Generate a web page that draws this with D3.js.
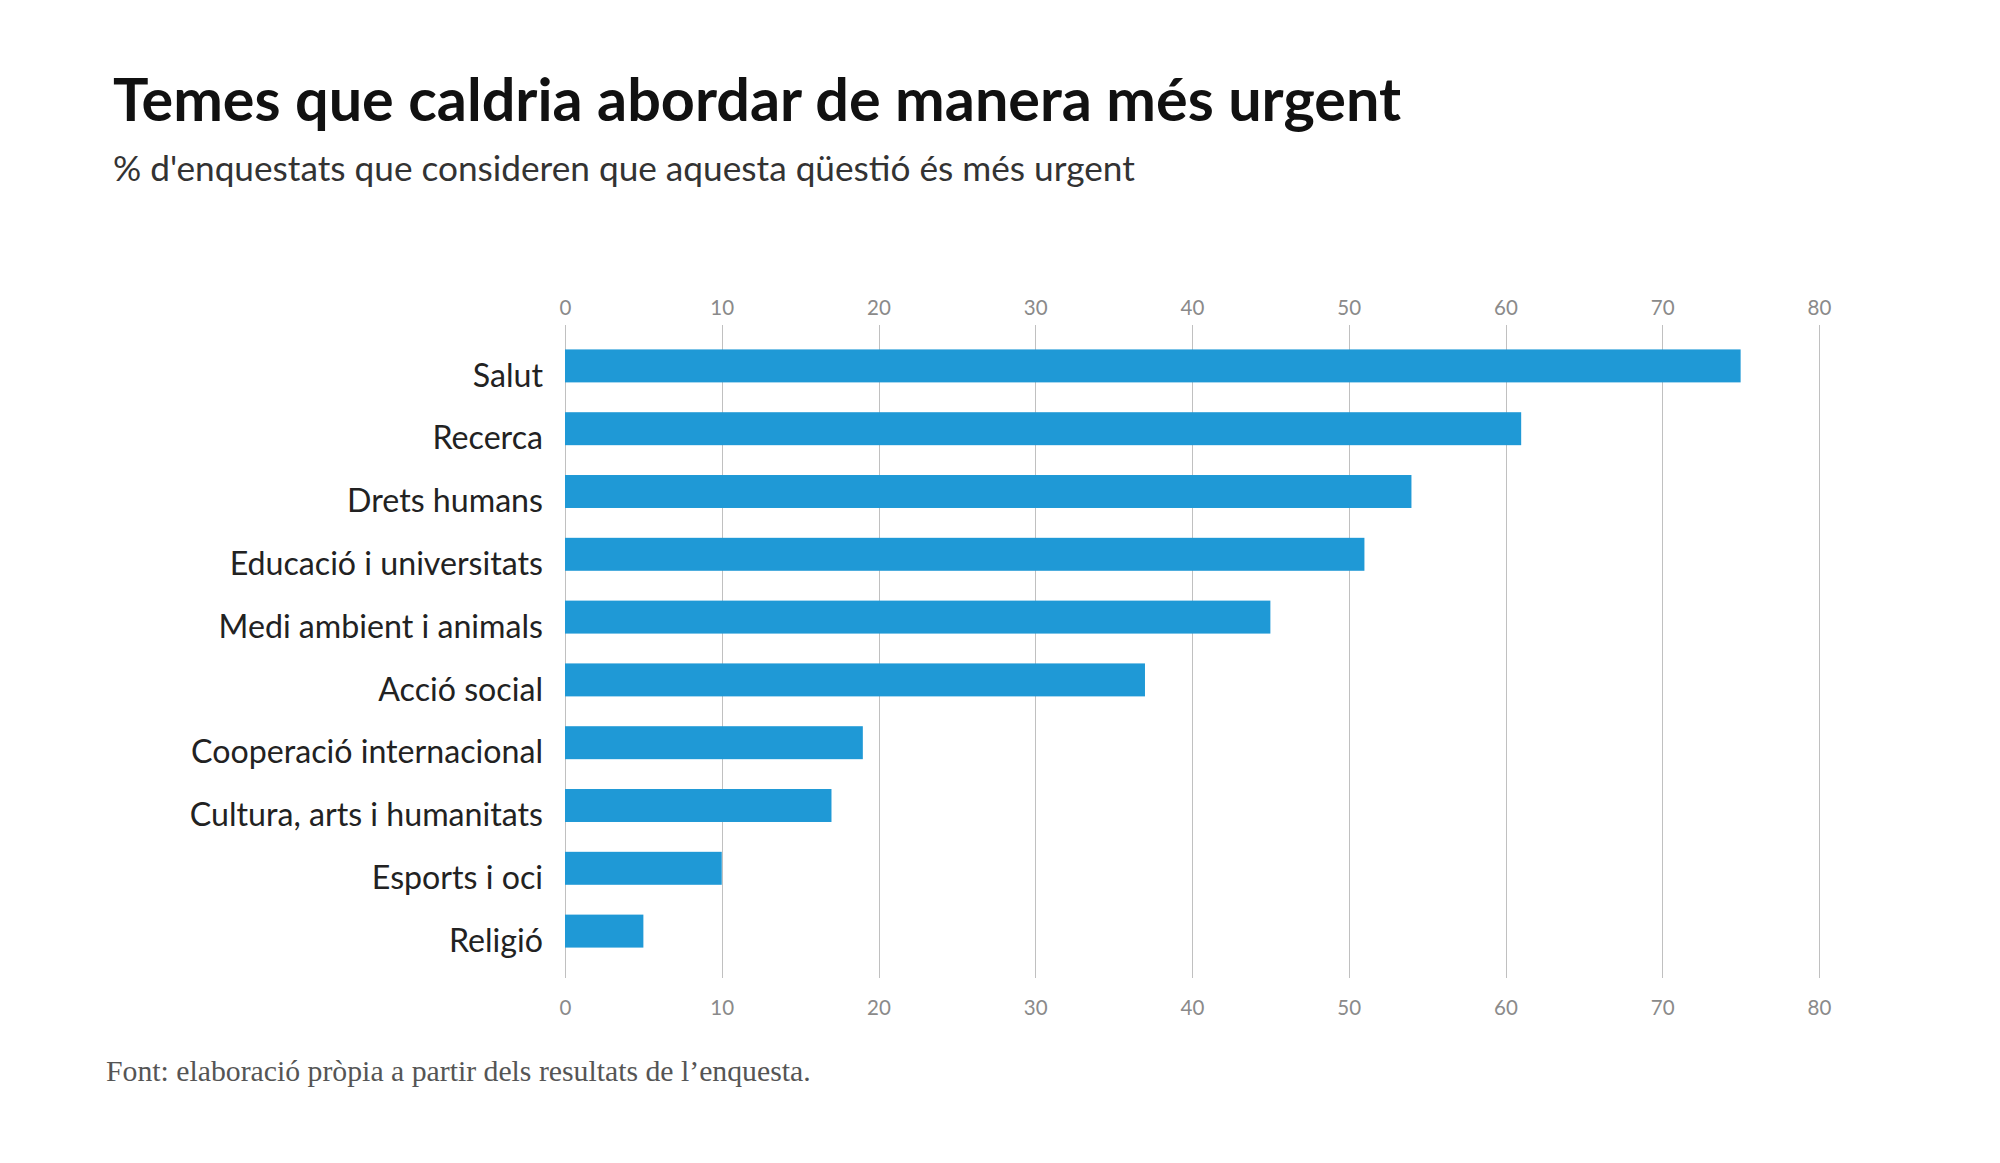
<!DOCTYPE html>
<html>
<head>
<meta charset="utf-8">
<script src="https://cdn.jsdelivr.net/npm/d3@7"></script>
<style>
  html, body { margin: 0; padding: 0; background: #fff; }
  svg { display: block; }
</style>
</head>
<body>
<svg id="chart" width="2000" height="1163"></svg>
<script>
var titleText = "Temes que caldria abordar de manera més urgent";
var subtitleText = "% d'enquestats que consideren que aquesta qüestió és més urgent";
var sourceText = "Font: elaboració pròpia a partir dels resultats de l’enquesta.";

var categories = ["Salut", "Recerca", "Drets humans", "Educació i universitats",
  "Medi ambient i animals", "Acció social", "Cooperació internacional",
  "Cultura, arts i humanitats", "Esports i oci", "Religió"];
var values = [75, 61, 54, 51, 45, 37, 19, 17, 10, 5];
var tickValues = [0, 10, 20, 30, 40, 50, 60, 70, 80];

(function() {
  "use strict";

  var svg = d3.select("#chart"),
    sans = "Lato, 'Noto Sans', sans-serif",
    barColor = "#1f99d6",
    gridColor = "#c0c0c0",
    gridTop = 325,
    gridBottom = 978;

  var x = d3.scaleLinear().domain([0, 80]).range([565, 1819]);
  var y = d3.scaleBand().domain(categories).range([334.5, 962.5])
    .paddingInner(0.475).paddingOuter(0.2375);

  // shrink or grow a text until it has the width we measured on the picture
  function fitWidth(sel, target) {
    var size = parseFloat(sel.attr("font-size"));
    var w = sel.node().getComputedTextLength();
    sel.attr("font-size", (size * target / w).toFixed(2));
    return size * target / w;
  }

  var title = svg.append("text")
    .attr("x", 113).attr("y", 121)
    .attr("font-family", sans).attr("font-weight", 700)
    .attr("font-size", 54).attr("fill", "#111")
    .text(titleText);
  fitWidth(title, 1288);

  var subtitle = svg.append("text")
    .attr("x", 113).attr("y", 181)
    .attr("font-family", sans).attr("font-weight", 400)
    .attr("font-size", 30).attr("fill", "#333")
    .text(subtitleText);
  fitWidth(subtitle, 1022);

  // gridlines
  svg.append("g").selectAll("line")
    .data(tickValues)
    .join("line")
    .attr("x1", function(d) { return Math.round(x(d)) + 0.5; })
    .attr("x2", function(d) { return Math.round(x(d)) + 0.5; })
    .attr("y1", gridTop).attr("y2", gridBottom)
    .attr("stroke", gridColor).attr("stroke-width", 1);

  // top and bottom axes, labels only
  var axisTop = d3.axisTop(x).tickValues(tickValues).tickSize(0).tickPadding(0);
  var axisBottom = d3.axisBottom(x).tickValues(tickValues).tickSize(0).tickPadding(0);

  var gTop = svg.append("g").attr("transform", "translate(0,314.5)").call(axisTop);
  var gBottom = svg.append("g").attr("transform", "translate(0,1000)").call(axisBottom);
  [gTop, gBottom].forEach(function(g) {
    g.select(".domain").remove();
    g.selectAll("text")
      .attr("font-family", sans).attr("font-size", 20.5)
      .attr("fill", "#8a8a8a");
  });
  gBottom.selectAll("text").attr("dy", "0.71em");

  // bars
  svg.append("g").selectAll("rect")
    .data(values)
    .join("rect")
    .attr("x", x(0))
    .attr("y", function(d, i) { return y(categories[i]); })
    .attr("width", function(d) { return x(d) - x(0); })
    .attr("height", y.bandwidth())
    .attr("fill", barColor);

  // category labels
  var labels = svg.append("g").selectAll("text")
    .data(categories)
    .join("text")
    .attr("x", 543)
    .attr("y", function(d) { return y(d) + y.bandwidth() / 2 + 9.5; })
    .attr("dy", "0.35em")
    .attr("text-anchor", "end")
    .attr("font-family", sans).attr("font-size", 30)
    .attr("fill", "#222")
    .text(function(d) { return d; });
  var coop = labels.filter(function(d) { return d === "Cooperació internacional"; });
  var labelSize = fitWidth(coop, 352);
  labels.attr("font-size", labelSize.toFixed(2));

  var source = svg.append("text")
    .attr("x", 106).attr("y", 1081)
    .attr("font-family", "'Liberation Serif', 'DejaVu Serif', serif")
    .attr("font-size", 24).attr("fill", "#555")
    .text(sourceText);
  fitWidth(source, 705);
})();
</script>
</body>
</html>
